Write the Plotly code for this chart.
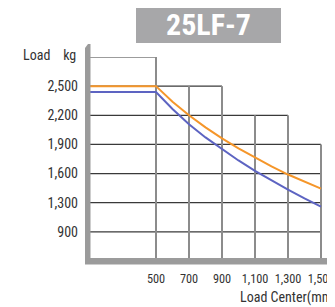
import plotly.graph_objects as go

# ---- data ----
load_center_mm = [100, 500, 600, 700, 800, 900, 1000, 1100, 1200, 1300, 1400, 1500]
capacity_orange = [2500, 2500, 2340, 2200, 2075, 1962, 1860, 1766, 1675, 1590, 1515, 1445]
capacity_blue = [2440, 2440, 2265, 2107, 1972, 1849, 1735, 1628, 1528, 1435, 1345, 1260]

x_ticks = [500, 700, 900, 1100, 1300, 1500]
x_tick_text = ["500", "700", "900", "1,100", "1,300", "1,500"]
y_ticks = [2500, 2200, 1900, 1600, 1300, 1000]
y_tick_text = ["2,500", "2,200", "1,900", "1,600", "1,300", "900"]
y_top = 2800
y_bottom = 700
x_left = 100
x_right = 1585

# staircase grid extents
h_grid_levels = [2800, 2500, 2200, 1900, 1600, 1300, 1000]
h_grid_extent = [500, 900, 1300, 1500, 1500, 1500, 1500]
v_grid_top = [2800, 2500, 2500, 2200, 2200, 1900]

title_text = "25LF-7"
y_label = "Load\u00a0\u00a0\u00a0\u00a0kg"
x_label = "Load Center(mm)"

FONT = "Liberation Sans Narrow, Roboto Condensed, Arial Narrow, Liberation Sans, sans-serif"

# ---- layout geometry (reference pixel coords; page body has an 8px margin) ----
OFF = 8
W, H = 335 - OFF, 307 - OFF
L, R, T, B = 90, 335, 57, 261


def px(x):
    return (x - L) / (R - L)


def py(y):
    return (B - y) / (B - T)


fig = go.Figure()

shapes = []
for lvl, ext in zip(h_grid_levels, h_grid_extent):
    shapes.append(dict(type="line", xref="x", yref="y", x0=x_left, x1=ext, y0=lvl, y1=lvl,
                       line=dict(color="#3a3a3a", width=1.2), layer="below"))
for xv, top in zip(x_ticks, v_grid_top):
    shapes.append(dict(type="line", xref="x", yref="y", x0=xv, x1=xv, y0=y_bottom, y1=top,
                       line=dict(color="#8c8c8c", width=2), layer="below"))

# axis bars
shapes.append(dict(type="path", xref="paper", yref="paper",
                   path=f"M {px(85)},{py(48)} L {px(88)},{py(44)} L {px(90.5)},{py(44)} "
                        f"L {px(90.5)},{py(264)} L {px(85)},{py(264)} Z",
                   fillcolor="#9b9b9b", line=dict(width=0), layer="above"))
shapes.append(dict(type="rect", xref="paper", yref="paper",
                   x0=px(85), x1=px(336), y0=py(258), y1=py(264.5),
                   fillcolor="#9b9b9b", line=dict(width=0), layer="above"))
# title box
shapes.append(dict(type="rect", xref="paper", yref="paper",
                   x0=px(136), x1=px(281), y0=py(43), y1=py(7),
                   fillcolor="#a7a7a9", line=dict(width=0)))

fig.add_trace(go.Scatter(x=load_center_mm, y=capacity_orange, mode="lines",
                         line=dict(color="#f5962a", width=2), showlegend=False))
fig.add_trace(go.Scatter(x=load_center_mm, y=capacity_blue, mode="lines",
                         line=dict(color="#5d64c2", width=2), showlegend=False))

annotations = [
    dict(text=f"<b>{title_text}</b>", xref="paper", yref="paper", x=px(208.5), y=py(25),
         xanchor="center", yanchor="middle", showarrow=False,
         font=dict(family=FONT, size=30, color="white")),
    dict(text=y_label, xref="paper", yref="paper", x=px(78), y=py(55),
         xanchor="right", yanchor="middle", showarrow=False,
         font=dict(family=FONT, size=14, color="#333333")),
    dict(text=x_label, xref="paper", yref="paper", x=px(238), y=py(297),
         xanchor="left", yanchor="middle", showarrow=False,
         font=dict(family=FONT, size=14, color="#333333")),
]

fig.update_layout(
    width=W, height=H,
    margin=dict(l=L - OFF, r=0, t=T - OFF, b=H - (B - OFF)),
    paper_bgcolor="white", plot_bgcolor="white",
    shapes=shapes, annotations=annotations,
    xaxis=dict(range=[x_left, x_right], tickvals=x_ticks, ticktext=x_tick_text,
               showgrid=False, zeroline=False, showline=False, ticks="",
               ticklabelstandoff=9, ticklabeloverflow="allow",
               tickfont=dict(family=FONT, size=12.3, color="#333333")),
    yaxis=dict(range=[y_bottom, y_top], tickvals=y_ticks, ticktext=y_tick_text,
               showgrid=False, zeroline=False, showline=False, ticks="",
               ticklabelstandoff=11, ticklabeloverflow="allow",
               tickfont=dict(family=FONT, size=14, color="#333333")),
)

fig.write_html("out.html")
